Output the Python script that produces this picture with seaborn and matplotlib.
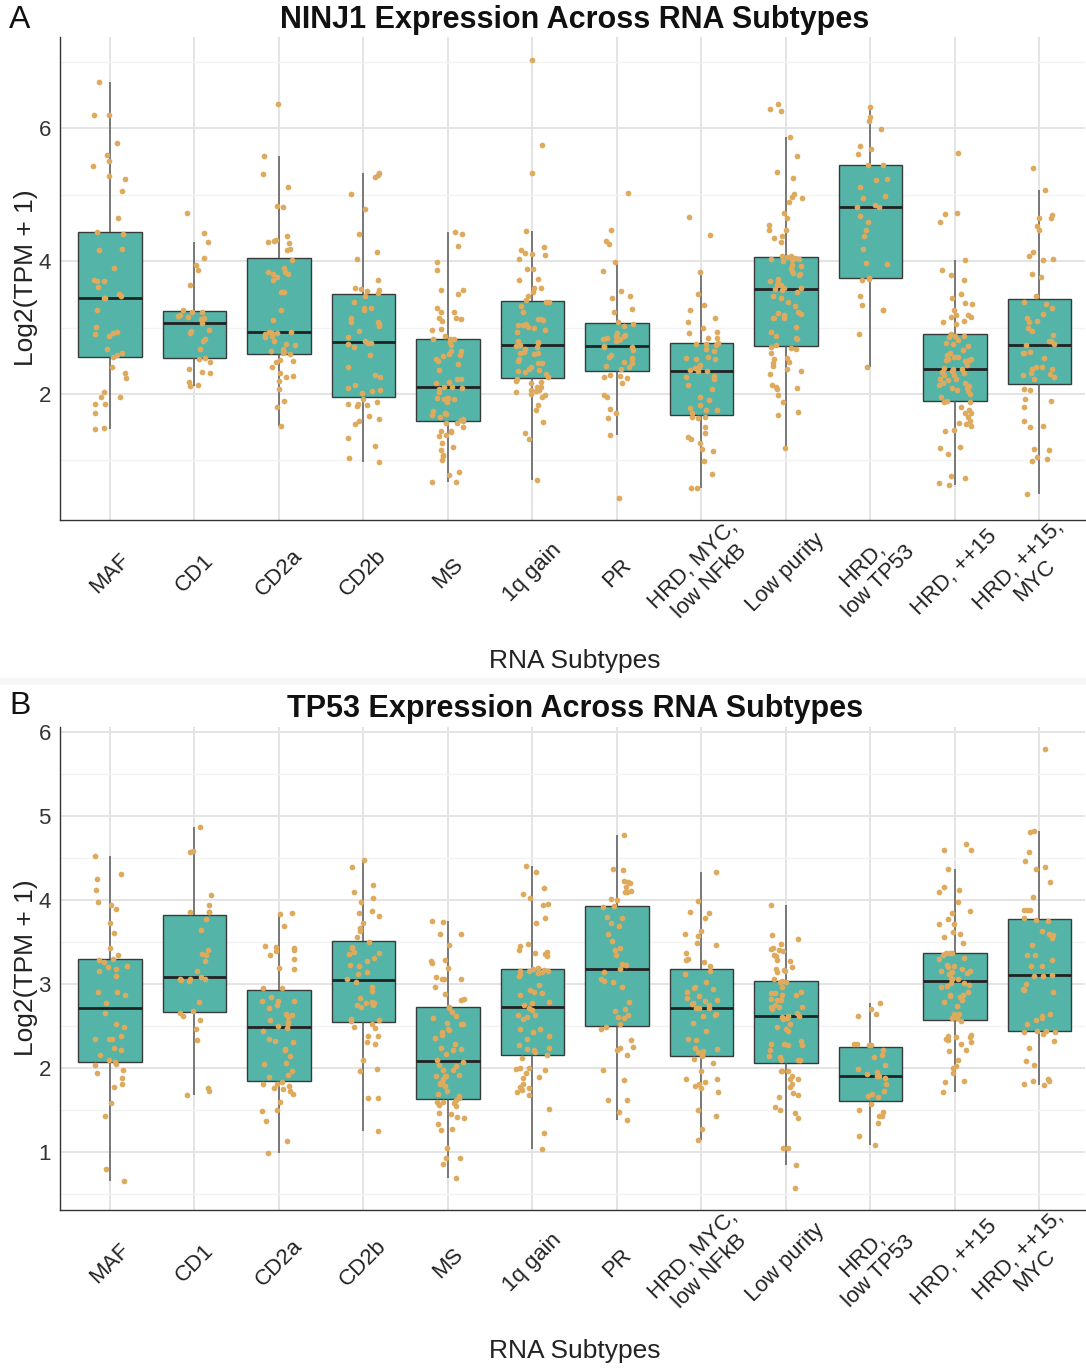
import numpy as np
import pandas as pd
import matplotlib
matplotlib.use("Agg")
import matplotlib.pyplot as plt
import seaborn as sns
from matplotlib.ticker import MultipleLocator
from matplotlib.patches import Rectangle
from matplotlib.transforms import ScaledTranslation

# ---------------- data ----------------
subtypes = ["MAF", "CD1", "CD2a", "CD2b", "MS", "1q gain", "PR",
            "HRD, MYC,\nlow NFkB", "Low purity", "HRD,\nlow TP53",
            "HRD, ++15", "HRD, ++15,\nMYC"]

# NINJ1 (panel A)
ninj1_maf = [6.70, 6.20, 6.19, 5.78, 5.59, 5.51, 5.43, 5.28, 5.23, 5.06, 4.65, 4.44, 4.40, 4.18, 4.16,
             3.89, 3.71, 3.70, 3.70, 3.61, 3.51, 3.48, 3.45, 3.44, 3.26, 3.01, 2.94, 2.92, 2.90, 2.88,
             2.68, 2.61, 2.58, 2.56, 2.40, 2.32, 2.24, 2.03, 1.96, 1.96, 1.85, 1.85, 1.71, 1.49, 1.48]
ninj1_cd1 = [4.72, 4.42, 4.29, 4.04, 3.94, 3.86, 3.64, 3.27, 3.24, 3.23, 3.19, 3.17, 3.15, 3.16, 3.13,
             3.07, 2.96, 2.95, 2.92, 2.82, 2.79, 2.68, 2.54, 2.53, 2.48, 2.37, 2.33, 2.32, 2.18, 2.13, 2.12]
ninj1_cd2a = [6.36, 5.58, 5.31, 5.11, 4.83, 4.82, 4.38, 4.32, 4.30, 4.28, 4.27, 4.18, 4.16, 4.01, 3.89,
              3.84, 3.83, 3.81, 3.80, 3.76, 3.72, 3.53, 3.53, 3.27, 3.11, 2.94, 2.93, 2.92, 2.92, 2.90,
              2.87, 2.86, 2.79, 2.75, 2.74, 2.68, 2.65, 2.63, 2.61, 2.60, 2.51, 2.49, 2.48, 2.41, 2.31,
              2.27, 2.25, 2.20, 2.07, 1.90, 1.80, 1.52]
ninj1_cd2b = [5.33, 5.30, 5.27, 5.01, 4.79, 4.40, 4.13, 4.03, 3.72, 3.59, 3.58, 3.57, 3.55, 3.52, 3.47,
              3.38, 3.29, 3.29, 3.26, 3.14, 3.09, 3.08, 3.05, 3.02, 2.95, 2.86, 2.79, 2.77, 2.76, 2.75,
              2.70, 2.59, 2.40, 2.29, 2.26, 2.14, 2.09, 2.06, 2.04, 2.02, 1.93, 1.88, 1.85, 1.85, 1.83,
              1.82, 1.67, 1.63, 1.59, 1.55, 1.34, 1.22, 1.04, 0.97]
ninj1_ms = [4.43, 4.41, 4.23, 3.99, 3.87, 3.57, 3.56, 3.50, 3.29, 3.24, 3.23, 3.14, 3.14, 3.13, 3.10,
            2.98, 2.97, 2.87, 2.83, 2.82, 2.82, 2.78, 2.73, 2.65, 2.65, 2.60, 2.59, 2.57, 2.52, 2.50,
            2.45, 2.36, 2.23, 2.23, 2.18, 2.16, 2.11, 2.11, 2.09, 2.07, 2.03, 1.94, 1.94, 1.94, 1.92,
            1.92, 1.88, 1.75, 1.72, 1.71, 1.70, 1.68, 1.65, 1.62, 1.61, 1.59, 1.57, 1.56, 1.50, 1.44,
            1.44, 1.43, 1.38, 1.37, 1.27, 1.20, 1.16, 1.09, 1.07, 1.01, 0.83, 0.78, 0.68, 0.68]
ninj1_1q = [7.03, 5.75, 5.33, 4.45, 4.21, 4.16, 4.12, 4.10, 4.09, 4.03, 3.88, 3.88, 3.73, 3.72, 3.59,
            3.59, 3.53, 3.48, 3.42, 3.39, 3.39, 3.33, 3.24, 3.13, 3.13, 3.12, 3.05, 3.04, 3.04, 3.01,
            2.99, 2.96, 2.93, 2.79, 2.78, 2.77, 2.74, 2.74, 2.72, 2.70, 2.67, 2.63, 2.62, 2.61, 2.60,
            2.52, 2.49, 2.46, 2.46, 2.40, 2.37, 2.36, 2.35, 2.33, 2.30, 2.25, 2.23, 2.20, 2.18, 2.16,
            2.10, 2.10, 2.06, 2.06, 2.05, 2.03, 2.00, 1.98, 1.96, 1.83, 1.76, 1.58, 1.41, 1.33, 0.70]
ninj1_pr = [5.03, 4.46, 4.30, 4.26, 3.98, 3.85, 3.55, 3.48, 3.44, 3.28, 3.24, 3.08, 3.06, 3.03, 2.92,
            2.89, 2.88, 2.87, 2.84, 2.83, 2.83, 2.81, 2.79, 2.72, 2.71, 2.71, 2.66, 2.58, 2.56, 2.54,
            2.52, 2.48, 2.47, 2.42, 2.40, 2.37, 2.28, 2.27, 2.26, 2.24, 2.17, 1.99, 1.96, 1.78, 1.72,
            1.64, 1.39, 0.44]
ninj1_hrd_myc = [4.67, 4.39, 3.83, 3.51, 3.34, 3.26, 3.15, 3.08, 2.99, 2.93, 2.92, 2.85, 2.85, 2.77,
                 2.75, 2.75, 2.73, 2.67, 2.65, 2.55, 2.54, 2.53, 2.52, 2.43, 2.41, 2.39, 2.36, 2.34,
                 2.34, 2.27, 2.26, 2.22, 2.13, 2.08, 1.96, 1.91, 1.83, 1.79, 1.76, 1.76, 1.71, 1.66,
                 1.66, 1.64, 1.51, 1.41, 1.35, 1.33, 1.26, 1.18, 1.14, 0.99, 0.79, 0.58, 0.58]
ninj1_lowpur = [6.36, 6.28, 6.26, 5.86, 5.58, 5.34, 5.25, 5.01, 4.97, 4.95, 4.89, 4.72, 4.65, 4.54,
                4.47, 4.47, 4.37, 4.35, 4.29, 4.08, 4.06, 4.07, 4.04, 4.03, 4.03, 4.01, 4.00, 3.94,
                3.92, 3.90, 3.85, 3.82, 3.80, 3.79, 3.73, 3.70, 3.69, 3.64, 3.64, 3.59, 3.59, 3.58,
                3.57, 3.53, 3.48, 3.45, 3.39, 3.33, 3.23, 3.22, 3.20, 3.19, 3.14, 3.14, 3.14, 3.01,
                2.93, 2.88, 2.84, 2.83, 2.73, 2.71, 2.69, 2.67, 2.61, 2.54, 2.52, 2.48, 2.46, 2.42,
                2.37, 2.34, 2.30, 2.14, 2.10, 2.09, 2.08, 1.99, 1.88, 1.73, 1.68, 1.19]
ninj1_hrd_tp53 = [6.32, 6.16, 6.10, 5.99, 5.73, 5.68, 5.61, 5.45, 5.44, 5.24, 5.22, 5.12, 4.98, 4.95,
                  4.84, 4.82, 4.82, 4.68, 4.58, 4.47, 4.37, 4.18, 3.97, 3.96, 3.74, 3.73, 3.72, 3.47,
                  3.34, 3.27, 3.26, 2.91, 2.41]
ninj1_hrd15 = [5.62, 4.73, 4.71, 4.58, 4.01, 3.86, 3.79, 3.72, 3.51, 3.45, 3.37, 3.36, 3.26, 3.19,
               3.19, 3.16, 3.16, 3.10, 3.08, 3.06, 2.90, 2.87, 2.87, 2.86, 2.81, 2.77, 2.75, 2.72,
               2.66, 2.61, 2.59, 2.56, 2.55, 2.53, 2.52, 2.51, 2.51, 2.49, 2.44, 2.39, 2.38, 2.37,
               2.35, 2.33, 2.31, 2.29, 2.28, 2.23, 2.22, 2.21, 2.17, 2.16, 2.14, 2.12, 2.09, 2.09,
               2.06, 2.05, 2.00, 1.96, 1.90, 1.88, 1.88, 1.81, 1.76, 1.71, 1.71, 1.65, 1.59, 1.56,
               1.55, 1.52, 1.46, 1.44, 1.21, 1.19, 1.10, 0.76, 0.73, 0.66, 0.63]
ninj1_hrd15myc = [5.40, 5.07, 4.69, 4.65, 4.64, 4.53, 4.47, 4.13, 4.07, 4.03, 4.01, 3.80, 3.76, 3.48,
                  3.39, 3.36, 3.29, 3.20, 3.14, 3.10, 3.08, 3.00, 2.95, 2.89, 2.80, 2.80, 2.75, 2.74,
                  2.63, 2.62, 2.61, 2.54, 2.40, 2.40, 2.37, 2.37, 2.32, 2.30, 2.29, 2.25, 2.23, 2.07,
                  2.06, 1.93, 1.89, 1.80, 1.60, 1.52, 1.50, 1.18, 1.16, 1.05, 1.03, 0.99, 0.50]

# TP53 (panel B)
tp53_maf = [4.52, 4.31, 4.25, 4.12, 3.98, 3.94, 3.89, 3.73, 3.61, 3.43, 3.35, 3.30, 3.29, 3.26, 3.22,
            3.20, 3.18, 3.15, 3.10, 2.91, 2.90, 2.87, 2.77, 2.66, 2.52, 2.49, 2.38, 2.35, 2.34, 2.34,
            2.24, 2.21, 2.16, 2.10, 2.07, 2.05, 2.04, 1.98, 1.94, 1.88, 1.81, 1.78, 1.58, 1.43, 0.80, 0.66]
tp53_cd1 = [4.87, 4.58, 4.57, 4.06, 3.94, 3.86, 3.86, 3.86, 3.78, 3.64, 3.41, 3.36, 3.34, 3.27, 3.16,
            3.08, 3.06, 3.06, 3.06, 3.05, 3.04, 2.79, 2.68, 2.65, 2.62, 2.57, 2.46, 2.33, 1.76, 1.73, 1.68]
tp53_cd2a = [3.84, 3.83, 3.69, 3.45, 3.44, 3.43, 3.41, 3.39, 3.35, 3.30, 3.19, 3.18, 2.95, 2.95, 2.85,
             2.80, 2.80, 2.80, 2.75, 2.71, 2.64, 2.63, 2.61, 2.57, 2.55, 2.52, 2.50, 2.48, 2.44, 2.35,
             2.32, 2.31, 2.23, 2.21, 2.14, 2.06, 2.05, 1.97, 1.92, 1.89, 1.83, 1.81, 1.81, 1.79, 1.76,
             1.75, 1.73, 1.69, 1.60, 1.50, 1.49, 1.37, 1.13, 0.99]
tp53_cd2b = [4.48, 4.39, 4.18, 4.10, 4.03, 3.98, 3.87, 3.85, 3.81, 3.73, 3.67, 3.63, 3.56, 3.50, 3.44,
             3.43, 3.37, 3.38, 3.31, 3.36, 3.28, 3.23, 3.22, 3.12, 3.14, 3.06, 3.03, 2.96, 2.92, 2.75,
             2.78, 2.79, 2.73, 2.75, 2.77, 2.83, 2.58, 2.57, 2.56, 2.53, 2.49, 2.48, 2.38, 2.38, 2.31,
             2.29, 2.10, 1.99, 1.97, 1.64, 1.64, 1.25]
tp53_ms = [3.75, 3.74, 3.60, 3.60, 3.46, 3.29, 3.28, 3.25, 3.19, 3.06, 3.06, 3.06, 3.08, 2.97, 2.88,
           2.82, 2.81, 2.72, 2.73, 2.67, 2.62, 2.59, 2.52, 2.52, 2.54, 2.43, 2.45, 2.46, 2.39, 2.36,
           2.29, 2.23, 2.22, 2.24, 2.17, 2.10, 2.07, 2.04, 1.98, 1.98, 2.02, 1.91, 1.90, 1.90, 1.92,
           1.82, 1.79, 1.81, 1.87, 1.83, 1.73, 1.67, 1.64, 1.60, 1.56, 1.60, 1.58, 1.55, 1.62, 1.69,
           1.46, 1.40, 1.45, 1.42, 1.33, 1.27, 1.26, 1.05, 0.93, 0.93, 0.86, 0.69]
tp53_1q = [4.40, 4.33, 4.14, 4.07, 4.02, 3.95, 3.94, 3.79, 3.73, 3.48, 3.45, 3.36, 3.41, 3.38, 3.33,
           3.15, 3.14, 3.19, 3.16, 3.17, 3.37, 3.18, 3.12, 3.09, 3.13, 3.16, 2.99, 2.93, 2.87, 2.91,
           2.89, 2.79, 2.75, 2.71, 2.69, 2.77, 2.58, 2.61, 2.63, 2.63, 2.38, 2.47, 2.46, 2.43, 2.35,
           2.23, 2.24, 2.27, 2.19, 2.21, 2.16, 2.12, 1.99, 1.98, 1.94, 2.00, 2.00, 1.81, 1.88, 1.89,
           1.77, 1.74, 1.76, 1.68, 1.71, 1.51, 1.23, 1.04]
tp53_pr = [4.77, 4.37, 4.36, 4.21, 4.23, 4.20, 4.16, 4.10, 4.11, 4.09, 4.01, 4.00, 3.92, 3.93, 3.79,
           3.80, 3.69, 3.73, 3.60, 3.51, 3.43, 3.34, 3.40, 3.23, 3.24, 3.18, 3.14, 3.06, 3.02, 3.04,
           2.96, 2.79, 2.70, 2.68, 2.63, 2.60, 2.61, 2.52, 2.49, 2.46, 2.33, 2.25, 2.22, 2.24, 2.15,
           1.98, 1.86, 1.62, 1.62, 1.48, 1.38]
tp53_hrd_myc = [4.33, 3.99, 3.86, 3.85, 3.79, 3.63, 3.57, 3.60, 3.47, 3.49, 3.37, 3.30, 3.26, 3.29,
                3.21, 3.15, 3.12, 3.03, 2.96, 2.95, 2.94, 2.90, 2.86, 2.81, 2.83, 2.80, 2.77, 2.76,
                2.72, 2.75, 2.72, 2.72, 2.64, 2.63, 2.62, 2.54, 2.44, 2.35, 2.33, 2.24, 2.23, 2.20,
                2.19, 2.11, 2.15, 2.14, 2.06, 1.97, 1.87, 1.87, 1.83, 1.81, 1.79, 1.76, 1.71, 1.50,
                1.43, 1.27, 1.14]
tp53_lowpur = [3.94, 3.58, 3.54, 3.43, 3.41, 3.48, 3.42, 3.33, 3.29, 3.39, 3.34, 3.28, 3.16, 3.20,
               3.18, 3.14, 3.17, 3.04, 3.02, 3.06, 3.03, 2.97, 2.87, 2.87, 2.89, 2.89, 2.90, 2.81,
               2.82, 2.81, 2.73, 2.73, 2.73, 2.75, 2.70, 2.66, 2.62, 2.62, 2.61, 2.58, 2.60, 2.52,
               2.46, 2.49, 2.44, 2.32, 2.28, 2.29, 2.29, 2.28, 2.21, 2.14, 2.13, 2.10, 2.10, 2.10,
               2.09, 1.97, 1.97, 1.96, 1.87, 1.90, 1.81, 1.78, 1.87, 1.70, 1.68, 1.65, 1.54, 1.50,
               1.46, 1.40, 1.05, 1.05, 0.85, 0.57]
tp53_hrd_tp53 = [2.77, 2.70, 2.64, 2.62, 2.28, 2.29, 2.28, 2.29, 2.22, 2.16, 2.13, 2.04, 1.99, 1.95,
                 1.93, 1.91, 1.91, 1.88, 1.81, 1.69, 1.73, 1.67, 1.65, 1.57, 1.48, 1.50, 1.43, 1.43,
                 1.35, 1.19, 1.08]
tp53_hrd15 = [4.67, 4.60, 4.59, 4.37, 4.15, 4.12, 4.10, 3.98, 3.85, 3.87, 3.78, 3.71, 3.71, 3.62,
              3.59, 3.56, 3.37, 3.49, 3.37, 3.37, 3.34, 3.30, 3.31, 3.22, 3.20, 3.16, 3.18, 3.13,
              3.12, 3.14, 3.15, 3.23, 3.07, 3.06, 3.06, 3.01, 2.99, 3.01, 2.98, 2.97, 2.90, 2.87,
              2.87, 2.85, 2.79, 2.86, 2.81, 2.74, 2.64, 2.60, 2.59, 2.64, 2.56, 2.39, 2.34, 2.37,
              2.38, 2.37, 2.33, 2.31, 2.29, 2.20, 2.22, 2.10, 2.03, 2.00, 1.94, 1.84, 1.83, 1.72]
tp53_hrd15myc = [5.80, 4.82, 4.81, 4.57, 4.46, 4.37, 4.39, 4.22, 4.04, 3.88, 3.88, 3.88, 3.76, 3.79,
                 3.75, 3.63, 3.60, 3.58, 3.55, 3.47, 3.35, 3.35, 3.29, 3.11, 3.10, 3.09, 3.21, 3.21,
                 3.00, 2.94, 2.93, 2.90, 2.62, 2.57, 2.64, 2.60, 2.52, 2.44, 2.44, 2.41, 2.43, 2.43,
                 2.32, 2.24, 2.08, 2.04, 1.84, 1.84, 1.81, 1.87, 1.80]

ninj1_groups = [ninj1_maf, ninj1_cd1, ninj1_cd2a, ninj1_cd2b, ninj1_ms, ninj1_1q, ninj1_pr,
                ninj1_hrd_myc, ninj1_lowpur, ninj1_hrd_tp53, ninj1_hrd15, ninj1_hrd15myc]
tp53_groups = [tp53_maf, tp53_cd1, tp53_cd2a, tp53_cd2b, tp53_ms, tp53_1q, tp53_pr,
               tp53_hrd_myc, tp53_lowpur, tp53_hrd_tp53, tp53_hrd15, tp53_hrd15myc]


def make_df(groups):
    rows = []
    for name, vals in zip(subtypes, groups):
        for v in vals:
            rows.append((name, v))
    return pd.DataFrame(rows, columns=["subtype", "value"])


df_ninj1 = make_df(ninj1_groups)
df_tp53 = make_df(tp53_groups)

# ---------------- style ----------------
sns.set_theme(style="white")
plt.rcParams["font.family"] = ["Liberation Sans", "DejaVu Sans"]

TEAL = "#54B4A8"
GOLD = "#DDAA5E"
W, H = 1086, 1368

fig = plt.figure(figsize=(W / 100, H / 100), dpi=100)
fig.patch.set_facecolor("white")

np.random.seed(11)

TICK_LEN_PT = 3.6            # ~5 px
LABEL_CENTER_PX = 53         # rotated tick-label centre below the axis line
XPAD_PT = (LABEL_CENTER_PX - TICK_LEN_PT * 100 / 72) * 72 / 100


def panel(ax, df, ylim, major, minor):
    sns.boxplot(data=df, x="subtype", y="value", order=subtypes, ax=ax,
                color=TEAL, saturation=1, width=0.75, showfliers=False,
                showcaps=False, linewidth=1.0, linecolor="#3a3a3a",
                whiskerprops=dict(color="#5a5a5a", linewidth=1.1),
                medianprops=dict(color="#222222", linewidth=2.0),
                zorder=2)
    sns.stripplot(data=df, x="subtype", y="value", order=subtypes, ax=ax,
                  color=GOLD, size=4.1, jitter=0.2, linewidth=0, zorder=3)
    ax.set_xlim(-0.59, 11.54)
    ax.set_ylim(*ylim)
    ax.yaxis.set_major_locator(MultipleLocator(major))
    ax.yaxis.set_minor_locator(MultipleLocator(minor))
    ax.set_axisbelow(True)
    ax.grid(which="major", axis="both", color="#E4E4E4", linewidth=1.4)
    ax.grid(which="minor", axis="y", color="#F3F3F3", linewidth=1.0)
    for s in ["top", "right"]:
        ax.spines[s].set_visible(False)
    for s in ["left", "bottom"]:
        ax.spines[s].set_color("#333333")
        ax.spines[s].set_linewidth(1.0)
    ax.tick_params(axis="both", which="major", length=TICK_LEN_PT, width=1, color="#333333",
                   direction="out", labelsize=16, labelcolor="#222222")
    ax.tick_params(axis="y", which="major", pad=3, labelcolor="#333333")
    ax.tick_params(axis="x", which="major", pad=XPAD_PT)
    ax.tick_params(axis="y", which="minor", length=0)
    ax.set_xlabel("")
    ax.set_ylabel("")
    labels = ax.get_xticklabels()
    for lbl in labels:
        lbl.set_rotation(45)
        lbl.set_rotation_mode("anchor")
        lbl.set_ha("center")
        lbl.set_va("center")
        lbl.set_multialignment("center")
        lbl.set_linespacing(1.1)
    # keep the right-most label inside the figure edge
    last = labels[-1]
    last.set_transform(last.get_transform() + ScaledTranslation(-13 / 100, 0, fig.dpi_scale_trans))


axA = fig.add_axes([60 / W, 1 - 520 / H, 1025 / W, 483 / H])
panel(axA, df_ninj1, (0.105, 7.37), 2, 1)
axB = fig.add_axes([60 / W, 1 - 1210 / H, 1025 / W, 483 / H])
panel(axB, df_tp53, (0.31, 6.06), 1, 0.5)

cx = 575 / W
fig.text(cx, 1 - 20 / H, "NINJ1 Expression Across RNA Subtypes", ha="center", va="center",
         fontsize=22, fontweight="bold", color="#111111")
fig.text(cx, 1 - 709 / H, "TP53 Expression Across RNA Subtypes", ha="center", va="center",
         fontsize=22, fontweight="bold", color="#111111")
fig.text(cx, 1 - 661 / H, "RNA Subtypes", ha="center", va="center", fontsize=19, color="#222222")
fig.text(cx, 1 - 1351 / H, "RNA Subtypes", ha="center", va="center", fontsize=19, color="#222222")
fig.text(26 / W, 1 - 278 / H, "Log2(TPM + 1)", ha="center", va="center", rotation=90,
         fontsize=19, color="#222222")
fig.text(26 / W, 1 - 968 / H, "Log2(TPM + 1)", ha="center", va="center", rotation=90,
         fontsize=19, color="#222222")
fig.text(20 / W, 1 - 20 / H, "A", ha="center", va="center", fontsize=23, color="#111111")
fig.text(20 / W, 1 - 706 / H, "B", ha="center", va="center", fontsize=23, color="#111111")

fig.patches.append(Rectangle((0, 1 - 685 / H), 1, 7 / H, transform=fig.transFigure,
                             facecolor="#F6F6F6", edgecolor="none", zorder=0))

fig.savefig("out.png", dpi=100, facecolor="white")
